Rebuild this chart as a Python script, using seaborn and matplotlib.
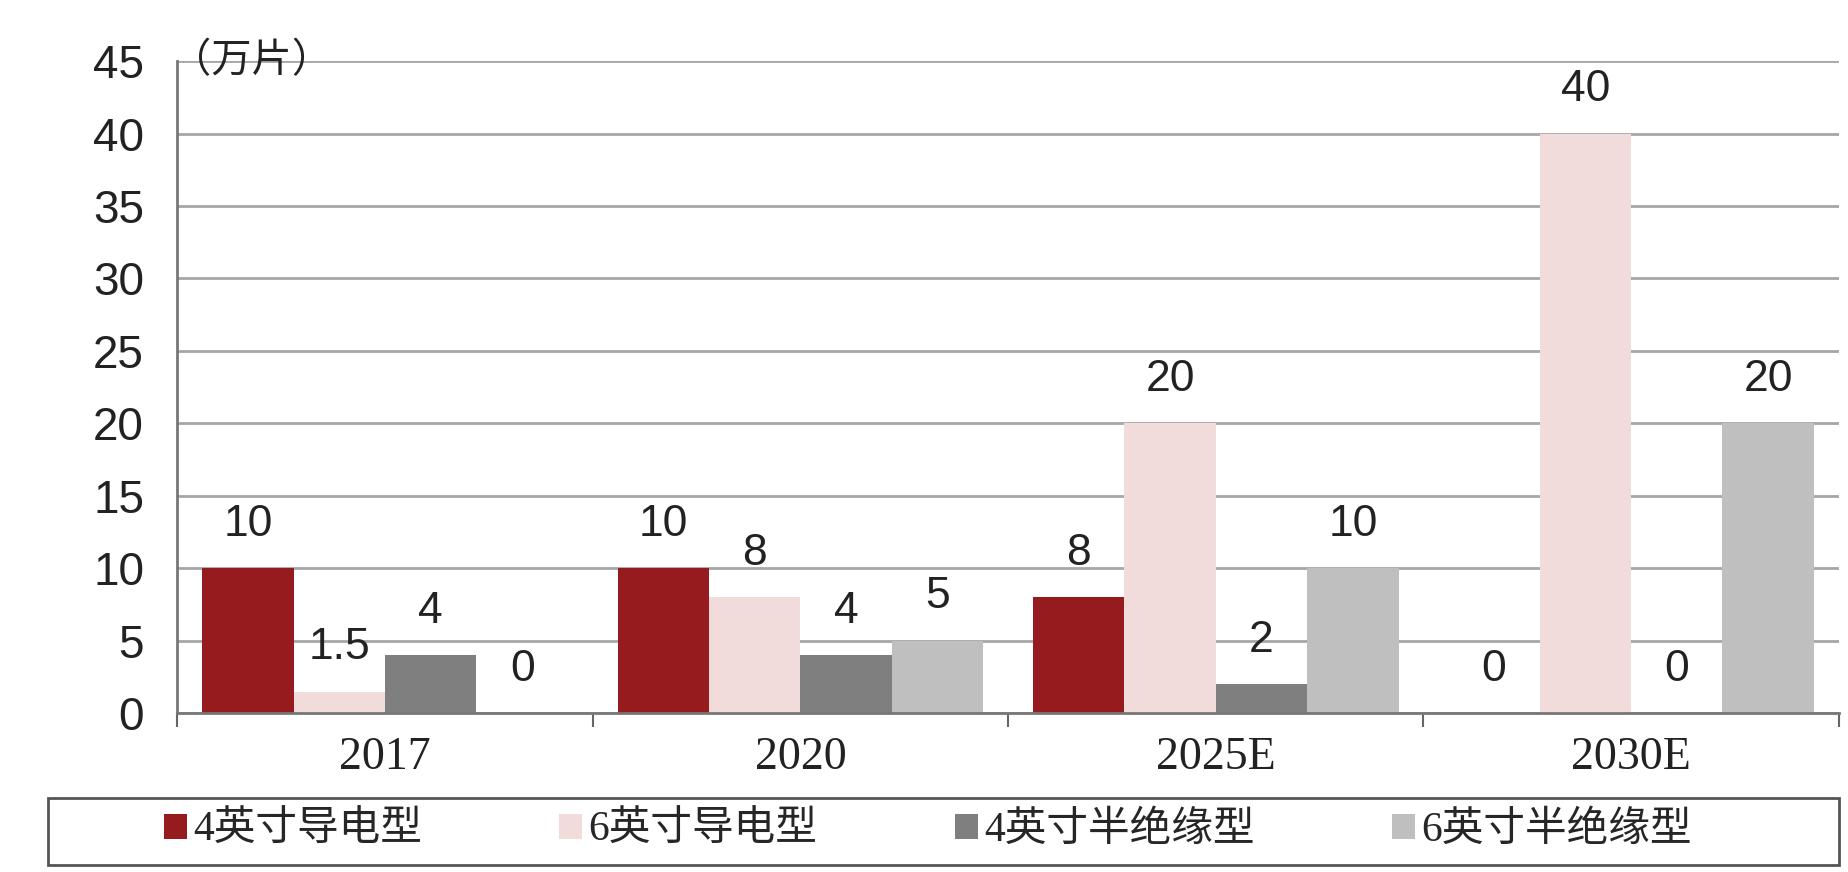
import numpy as np
import pandas as pd
import matplotlib
matplotlib.use("Agg")
import matplotlib.pyplot as plt
from matplotlib.patches import Rectangle
import seaborn as sns

# data (unit: 万片)
years = ["2017", "2020", "2025E", "2030E"]
series = ["4英寸导电型", "6英寸导电型", "4英寸半绝缘型", "6英寸半绝缘型"]
cond_4in = [10, 10, 8, 0]
cond_6in = [1.5, 8, 20, 40]
semi_4in = [4, 4, 2, 0]
semi_6in = [0, 5, 10, 20]
colors = ["#951B1F", "#F2DCDB", "#7F7F7F", "#BFBFBF"]

df = pd.DataFrame({
    "year": np.tile(years, 4),
    "series": np.repeat(series, 4),
    "value": cond_4in + cond_6in + semi_4in + semi_6in,
})

sns.set_theme(style="white")
plt.rcParams["font.family"] = ["Liberation Sans", "Noto Sans CJK SC"]

fig = plt.figure(figsize=(18.48, 8.72), dpi=100)
ax = fig.add_axes([0.096, 0.182, 0.899, 0.748])

sns.barplot(data=df, x="year", y="value", hue="series", order=years,
            hue_order=series, palette=colors, width=0.88, saturation=1,
            linewidth=0, ax=ax, legend=True)

# value labels
for cont in ax.containers:
    labels = [f"{v:g}" for v in cont.datavalues]
    ax.bar_label(cont, labels=labels, padding=17, fontsize=32,
                 color="#222222", family="Liberation Sans")

ax.set_ylim(0, 45)
ax.set_xlim(-0.5, 3.5)
ax.set_yticks(np.arange(0, 46, 5))
ax.tick_params(axis="y", labelsize=33, length=10, width=1.5, color="#666666",
               direction="out", pad=14, labelcolor="#222222")
ax.yaxis.grid(True, color="#A6A6A6", linewidth=2)
ax.set_axisbelow(True)

# group boundary ticks on x axis, labels at centers
ax.set_xticks([-0.5, 0.5, 1.5, 2.5, 3.5])
ax.set_xticklabels([])
ax.tick_params(axis="x", which="major", length=10, width=1.5, color="#666666",
               direction="out", bottom=True)
ax.set_xticks(range(len(years)), minor=True)
ax.set_xticklabels(years, minor=True, family="Liberation Serif", fontsize=33,
                   color="#222222")
ax.tick_params(axis="x", which="minor", length=0, pad=17)

ax.set_xlabel("")
ax.set_ylabel("")
for side in ["top", "right"]:
    ax.spines[side].set_visible(False)
for side in ["left", "bottom"]:
    ax.spines[side].set_color("#777777")
    ax.spines[side].set_linewidth(2)

ax.text(-0.004, 1.0, "（万片）", transform=ax.transAxes, fontsize=29,
        family=["Noto Sans CJK SC"], color="#222222", va="center", ha="left",
        style="italic")

# legend: framed box across the figure, entries centred inside
fig.patches.append(Rectangle((0.026, 0.008), 0.969, 0.077,
                             transform=fig.transFigure, fill=False,
                             edgecolor="#555555", linewidth=2))
handles, labels = ax.get_legend_handles_labels()
ax.get_legend().remove()
fig.legend(handles, labels, loc="center", ncol=4,
           bbox_to_anchor=(0.502, 0.047), frameon=False,
           handlelength=0.55, handleheight=0.55, handletextpad=0.15,
           columnspacing=3.3, borderaxespad=0,
           prop={"family": ["Liberation Serif", "Noto Sans CJK SC"],
                 "size": 30})

fig.savefig("out.png", dpi=100, facecolor="white")
